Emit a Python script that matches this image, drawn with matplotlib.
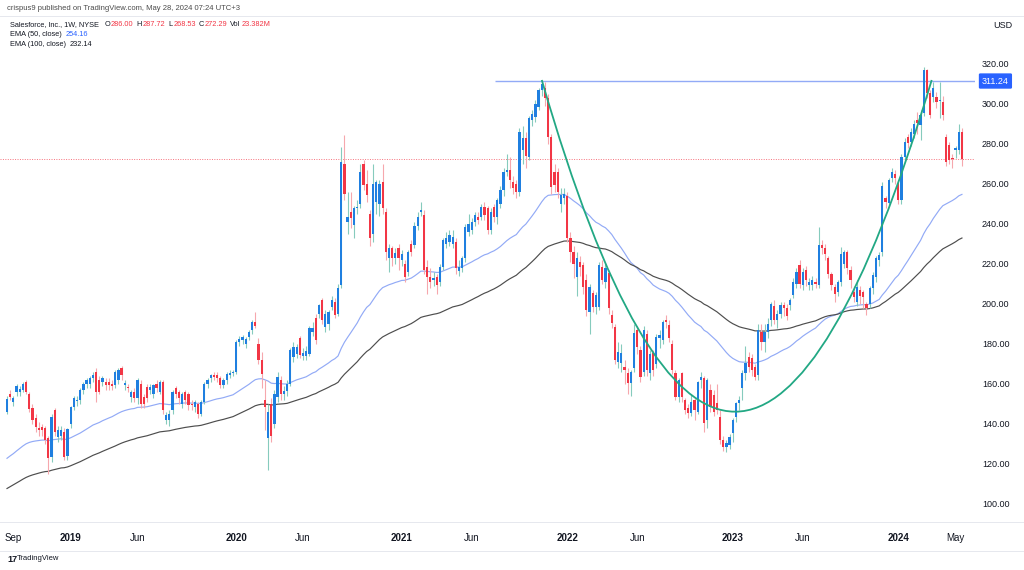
import numpy as np
import pandas as pd
import matplotlib
matplotlib.use('Agg')  # no display
import matplotlib.pyplot as plt
from matplotlib.path import Path
from matplotlib.patches import PathPatch
from matplotlib.lines import Line2D
from matplotlib.transforms import blended_transform_factory

plt.rcParams['font.family'] = ['Liberation Sans', 'DejaVu Sans']

# weekly bars, Salesforce (CRM), Aug 2018 - May 2024
dates = pd.date_range('2018-08-20', periods=301, freq='W-MON')

opens = [
    146, 155, 151, 156, 156, 157, 161, 155, 148, 142.6,
    138, 138.4, 137.6, 132.6, 123.4, 146.75, 133.5, 134, 136, 124,
    140, 148.4, 151.5, 151.75, 157, 160, 160, 162.6, 166, 162,
    161, 161, 161, 160, 159.25, 161.75, 167.6, 159.5, 158.5, 153.4,
    155.9, 152.6, 160, 153.4, 158.4, 156.75, 155, 160, 156, 161,
    141.75, 141.75, 146.75, 157.6, 155.9, 150, 155.9, 155, 150, 148.4,
    150, 145, 151, 160, 162.6, 164.25, 164.25, 162.6, 159.25, 161.75,
    164.25, 165.4, 166, 181, 182, 180, 183.4, 186.75, 191, 180,
    172, 152, 133, 150, 140, 153.4, 161.75, 155, 156.5, 160,
    173.4, 175, 182.6, 174, 174, 175, 186, 192.6, 195, 201.75,
    188.4, 190, 198.4, 200.9, 195, 209.25, 270, 241, 246, 239.25,
    247.6, 250, 270, 260, 245, 235, 251, 250, 261, 246,
    222.6, 227.6, 223, 227.6, 222, 220, 216, 230, 229.25, 239,
    246, 244.25, 218.4, 213.4, 212, 213.4, 211, 218.4, 230, 231,
    230, 231, 216.5, 217.6, 222.6, 236, 236.75, 241, 243.4, 243.4,
    248.4, 247.6, 236.75, 248.4, 243.4, 250, 256.75, 266, 266.75, 261,
    260, 256, 277, 283, 273.4, 291.75, 293.4, 298.4, 306.75, 307.6,
    302.6, 283.4, 266, 266, 250, 253, 254, 233, 226, 213.4,
    221, 219.25, 211.75, 195.9, 205.1, 198.4, 198.4, 218.4, 211, 215.1,
    194.25, 188.4, 170.9, 170.1, 168.4, 165.1, 160.1, 167.6, 186.75, 176.75,
    165.9, 185, 165.1, 175.1, 170, 182.6, 182, 191.75, 189.25, 180,
    165.1, 153.4, 165.1, 151.75, 147.6, 145.1, 151.75, 145.9, 161.75, 162.6,
    141.75, 156.75, 154.25, 150.1, 143.4, 131.75, 128.4, 129.25, 135.1, 143.4,
    150.1, 157.6, 165.1, 173.4, 172.6, 168.4, 164.25, 186, 181, 186,
    191.75, 199, 192, 195, 199.25, 198, 199.25, 204.25, 210, 219.25,
    209.25, 216.75, 209.25, 209.25, 211, 209.25, 229.25, 227.6, 222.6, 215,
    208.4, 206, 210.9, 220, 225.9, 217, 205.9, 200.9, 207, 205.9,
    200, 200, 207.6, 213.4, 221.75, 225.9, 252.6, 250.1, 262.6, 265,
    260.1, 251.75, 273.4, 283.4, 281, 285, 291.75, 289.25, 295.1, 316.75,
    305.1, 303.4, 303.4, 301.5, 300.9, 283.1, 279.25, 273, 276.75, 276.75,
    286,
]

highs = [
    154, 157, 154, 160, 159, 161, 162, 156, 150, 145,
    141, 140, 139, 134, 145, 148, 139, 139, 138, 138,
    149, 154, 154, 158, 161, 163, 164, 166, 168, 164,
    164, 163, 163, 162, 167, 168, 169, 162, 160, 157,
    158, 163, 162, 155, 160, 160, 160, 162, 162, 162,
    146, 147, 157, 159, 157, 156, 157, 156, 152, 152,
    151, 152, 161, 163, 165, 166, 166, 164, 163, 166,
    167, 167, 182, 184, 184.5, 183.5, 187, 192, 196, 183,
    176, 161.75, 150, 153, 157, 166, 164, 159, 162, 178,
    181, 180, 184, 178, 179, 189, 191, 195, 200, 203,
    197, 197, 204, 203, 210, 278.4, 284.25, 256, 256, 249,
    252, 270, 272, 267, 247, 270, 262, 262, 270, 248,
    230, 229, 228, 230, 227, 222, 227, 232, 241, 246,
    251, 247, 222, 218, 216, 215, 220, 233, 236, 237,
    237, 233, 222, 224, 240, 245, 243, 246, 246, 250,
    251, 249, 248, 250, 253, 259, 268, 275, 273.4, 264,
    262, 288, 289, 286, 294, 297, 302, 308, 311.75, 311,
    305, 285, 270, 268, 258, 258, 256, 236, 229, 226,
    224, 221, 215, 210, 207, 206, 221, 222, 220, 217,
    197, 190, 181, 180, 172, 168, 167, 190, 189, 179,
    189, 187, 177, 177, 185, 187, 192, 194.25, 192, 182,
    167, 163, 166, 153, 150, 155, 153, 161.5, 166, 164,
    163, 160, 157, 160, 147, 134, 132, 135, 143, 151,
    154, 167, 179, 176, 175, 170, 190, 190, 190, 193,
    201, 202, 197, 201, 201, 200, 203, 213, 218, 222,
    218, 219, 213, 214, 213, 238.4, 232, 230, 224, 216,
    210, 212, 228.4, 227, 227, 219, 209, 212, 209, 207,
    201, 209, 216, 224, 226, 261, 254, 263, 268, 267,
    262, 275, 283, 285, 288, 292, 296, 297, 318.4, 317.5,
    307, 311, 306, 311, 304, 285, 281, 275, 279, 290,
    287.72,
]

lows = [
    145, 152, 149, 154, 154, 156, 155, 146, 140, 136,
    134, 134, 130, 115, 121, 134, 131, 132, 121.75, 122,
    138, 147, 149, 150, 155, 158, 158, 161, 151, 155,
    159, 157, 157, 157, 158, 160, 162, 157, 156, 151,
    151, 150, 148, 148, 151, 155, 153, 156, 155, 145,
    140, 139, 145, 153, 150, 148, 150, 147, 147, 146,
    143, 144, 150, 158, 161, 162, 161, 158, 158, 160,
    163, 164, 165, 179, 180, 178, 182, 185, 188, 170,
    158, 136.75, 116.75, 131, 138, 151, 152, 152, 154, 159,
    171, 173, 173, 172, 172, 174, 184, 180, 193, 190,
    186, 187, 197, 193, 194, 208, 252, 235, 238, 233,
    245, 248, 257, 251, 229, 231, 245, 244, 245, 222,
    216, 219, 220, 217, 219, 211, 214, 224, 228, 237,
    244, 215, 205, 208, 209, 205, 209, 217, 228, 229,
    228, 215, 214, 216, 221, 234, 235, 239, 240, 242,
    242, 235, 235, 241, 240, 248, 254, 264, 258, 255,
    253, 254, 270, 268, 272, 289, 291, 297, 304, 299,
    280, 255, 256, 253, 246, 250, 231, 221, 213, 204,
    214, 205, 194, 185, 196, 195, 197, 210, 208, 195,
    188, 170, 168, 166, 160, 155, 154, 166, 175, 161,
    164, 164, 162, 164, 168, 178, 180, 188, 181, 165,
    152, 151, 151, 145, 143, 144, 142, 145, 158, 136,
    138, 146, 144, 145, 130, 126.5, 126, 127.5, 131, 141,
    147, 152, 162, 166, 164, 162, 162, 177, 176, 183,
    189, 190, 188, 193, 194, 192, 197, 203, 208, 208,
    207, 209, 207, 207, 208, 208, 225, 222, 213, 207,
    201, 204, 209, 218, 215, 208, 201, 199, 200, 198,
    194.5, 198, 205, 211, 219, 224, 248, 249, 261, 260,
    250, 250, 271, 278, 279, 283, 285, 282, 294, 303,
    293, 301, 298, 293, 292, 269, 270, 268, 273, 275,
    268.53,
]

closes = [
    152.5, 153.5, 152.6, 159, 157.5, 160, 156, 147.5, 142, 138.4,
    137, 136.75, 131.75, 122.6, 143.4, 136, 137, 136.75, 123.4, 137.5,
    148.4, 152.6, 152, 156.75, 160, 161.75, 162.6, 164.25, 156, 156,
    162.6, 159.25, 159.5, 159, 166, 166.75, 164.25, 160.5, 158, 155.9,
    152.6, 161.75, 150, 150, 152.6, 158.4, 159.25, 157.6, 161, 146.75,
    144.25, 145, 155.9, 155, 152.6, 155, 151.75, 149.25, 149.5, 150.9,
    145, 151, 160, 161.75, 164.25, 163.4, 162.6, 159.25, 161.75, 165,
    165.4, 166, 181, 182.5, 183.4, 182.5, 186, 191, 189, 171.75,
    165, 148.5, 146, 134, 155, 163.4, 155, 156.5, 160, 176.75,
    178.4, 178.4, 174.25, 175.5, 176.5, 187.6, 187.6, 181.75, 199.25, 191.75,
    195, 196, 201.75, 194.25, 207.6, 270.9, 255, 243.4, 242.6, 247.6,
    248.4, 266, 259.25, 254.25, 232.6, 260, 261, 260, 247.6, 226,
    227.6, 222.6, 225.5, 222.6, 225, 213.4, 226, 226, 239, 243.4,
    246.75, 216.75, 213.4, 211, 213, 209.25, 218.4, 231.75, 233, 234.25,
    233.5, 217.6, 218.4, 222.6, 238.4, 240, 241, 244.25, 241.75, 248.4,
    244.25, 236.75, 246, 243.4, 251.75, 256.75, 266, 266.75, 261.75, 257.6,
    256, 286, 283, 274, 292.6, 295, 300, 306.75, 310, 302.6,
    283.4, 258.4, 259.25, 256, 254.25, 255, 233, 226, 220, 222.6,
    218.4, 208.4, 196.75, 208.4, 198.4, 204.25, 219.25, 211.75, 217.6, 197.6,
    190.1, 171.75, 175.9, 175.1, 166.75, 160.1, 165.9, 185.1, 178.4, 163.4,
    186.75, 166.75, 175, 166.75, 183.4, 184.25, 190.9, 190.9, 182.6, 166.75,
    153.4, 161.75, 153.4, 146.75, 145.1, 150.9, 146.75, 160.9, 163.4, 140.1,
    161.75, 148.4, 145.9, 146.75, 131.75, 128.4, 130.1, 133.4, 141.75, 150.1,
    151.75, 165.1, 170.1, 168.4, 166.75, 163.4, 186.75, 181, 186, 190,
    200, 192, 195, 199.25, 197.6, 194, 201.75, 211, 216, 210,
    216, 211.75, 210.9, 211.75, 210, 229.25, 227.6, 225, 215, 209.25,
    205, 210.9, 225, 225.9, 217.6, 212, 203.4, 208.4, 204, 203.4,
    197.6, 207.6, 214.25, 222.6, 224.25, 259, 251, 261.75, 265.9, 262.6,
    251.75, 273.4, 281, 280.1, 286, 290, 290.1, 294.25, 316.75, 305.1,
    294.25, 307.6, 300.9, 302, 294.25, 270.9, 271.75, 272.5, 277.6, 286,
    272.29,
]

# EMA values at the first visible bar
ema50_start = 122.6
ema100_start = 107.5

# values printed in the legend
last_volume = '23.382M'
ema50_last = 254.16
ema100_last = 232.14

resistance = 311.24
# arc drawing: start, control, end as (bar index, price)
arc_x = [168.0, 228.2, 290.5]
arc_y = [311.75, -19.95, 311.75]
resistance_start = 153.3

price_ticks = [100, 120, 140, 160, 180, 200, 220, 240, 260, 280, 300, 320]
tick_months = ['2018-09', '2019-01', '2019-06', '2020-01', '2020-06', '2021-01',
               '2021-06', '2022-01', '2022-06', '2023-01', '2023-06', '2024-01', '2024-05']
tick_labels = ['Sep', '2019', 'Jun', '2020', 'Jun', '2021', 'Jun', '2022', 'Jun',
               '2023', 'Jun', '2024', 'May']

assert len(opens) == len(highs) == len(lows) == len(closes) == len(dates)


def ema(values, n, start):
    a = 2.0 / (n + 1)
    out = [start]
    for v in values[1:]:
        out.append(out[-1] + a * (v - out[-1]))
    return np.array(out)


o = np.array(opens)
h = np.array(highs)
l = np.array(lows)
c = np.array(closes)
x = np.arange(len(c))
up = c >= o

UP_BODY = '#1f7fe0'
UP_WICK = '#86cbbd'
DN_BODY = '#f23645'
DN_WICK = '#f6a7ad'
TEXT = '#131722'

W, H = 1024, 570
fig = plt.figure(figsize=(W / 100, H / 100), dpi=100)
ax = fig.add_axes([0, 1 - 522 / H, 975 / W, (522 - 16) / H])

# wicks then bodies
ax.vlines(x[up], l[up], h[up], color=UP_WICK, lw=0.8, zorder=2)
ax.vlines(x[~up], l[~up], h[~up], color=DN_WICK, lw=0.8, zorder=2)
body = np.maximum(np.abs(c - o), 0.5)
ax.bar(x[up], body[up], bottom=np.minimum(o, c)[up], width=0.7,
       color=UP_BODY, lw=0, zorder=3)
ax.bar(x[~up], body[~up], bottom=np.minimum(o, c)[~up], width=0.7,
       color=DN_BODY, lw=0, zorder=3)

# moving averages
ax.plot(x, ema(closes, 50, ema50_start), color='#92aaf6', lw=0.85, zorder=1)
ax.plot(x, ema(closes, 100, ema100_start), color='#4d4d4d', lw=0.85, zorder=1)

# rounding-bottom arc
arc = Path(list(zip(arc_x, arc_y)), [Path.MOVETO, Path.CURVE3, Path.CURVE3])
ax.add_patch(PathPatch(arc, fc='none', ec='#22a884', lw=1.3, zorder=4))

# resistance + last price lines
ax.hlines(resistance, resistance_start, 400, color='#92aaf6', lw=1.0, zorder=1)
ax.axhline(closes[-1], color='#f23645', lw=0.7, ls=(0, (1, 1.5)), alpha=0.7, zorder=1)

ax.set_xlim(-2.2, 304.1)
ax.set_ylim(90.75, 343.75)
for s in ax.spines.values():
    s.set_visible(False)

ax.yaxis.tick_right()
ax.set_yticks(price_ticks)
ax.set_yticklabels([f'{p:.2f}' for p in price_ticks])
ax.tick_params(axis='y', length=0, pad=5, labelsize=6.5, labelcolor=TEXT)

month_str = dates.strftime('%Y-%m')
tick_idx = [int(np.argmax(month_str == m)) for m in tick_months]
ax.set_xticks(tick_idx)
ax.set_xticklabels(tick_labels)
ax.tick_params(axis='x', length=0, pad=8, labelsize=7, labelcolor=TEXT)
for t in ax.get_xticklabels():
    if t.get_text().isdigit():
        t.set_fontweight('bold')

tr = blended_transform_factory(ax.transAxes, ax.transData)
ax.text(982 / 975, resistance, f'{resistance:.2f}', transform=tr, ha='left', va='center',
        color='white', fontsize=6.5,
        bbox=dict(boxstyle='round,pad=0.35,rounding_size=0.15', fc='#2962ff', ec='none'))

# frame lines
for yy in (16, 522, 551):
    fig.add_artist(Line2D([0, 1], [1 - yy / H] * 2, color='#e6e8ee', lw=0.7))

# header
fig.text(7 / W, 1 - 9 / H, 'crispus9 published on TradingView.com, May 28, 2024 07:24 UTC+3',
         fontsize=5.5, color='#4a4a4a', va='center')
fig.text(1003 / W, 1 - 25 / H, 'USD', fontsize=6.5, color=TEXT, ha='center', va='center')

renderer = fig.canvas.get_renderer()


def text_row(pieces, x0, y, size=5.3):
    xpos = x0
    for s, col, gap in pieces:
        t = fig.text(xpos / W, 1 - y / H, s, fontsize=size, color=col, va='center')
        xpos += t.get_window_extent(renderer).width + gap


RED = '#f23645'
text_row([('Salesforce, Inc., 1W, NYSE', TEXT, 5),
          ('O', TEXT, 0.8), (f'{opens[-1]:.2f}', RED, 3),
          ('H', TEXT, 0.8), (f'{highs[-1]:.2f}', RED, 3),
          ('L', TEXT, 0.8), (f'{lows[-1]:.2f}', RED, 3),
          ('C', TEXT, 0.8), (f'{closes[-1]:.2f}', RED, 3),
          ('Vol', TEXT, 0.8), (last_volume, RED, 0)], 10.5, 25)
text_row([('EMA (50, close)', TEXT, 3), (f'{ema50_last:.2f}', '#2962ff', 0)], 10.5, 35)
text_row([('EMA (100, close)', TEXT, 3), (f'{ema100_last:.2f}', TEXT, 0)], 10.5, 44.5)

# footer logo
fig.text(7 / W, 1 - 559 / H, '17', fontsize=6.5, fontweight='bold', color=TEXT, va='center')
fig.text(17 / W, 1 - 559 / H, 'TradingView', fontsize=5.5, color=TEXT, va='center')

fig.savefig('out.png', dpi=100, facecolor='white')
